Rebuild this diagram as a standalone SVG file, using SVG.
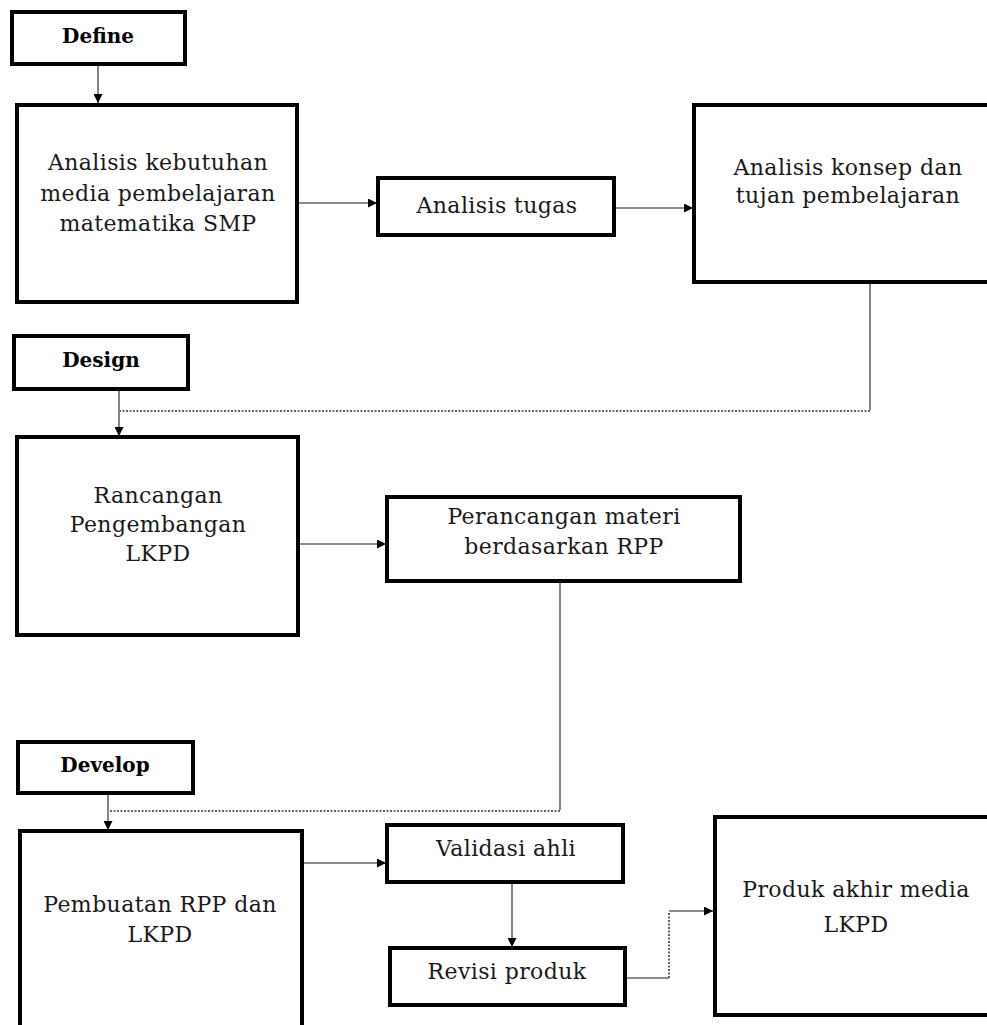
<svg xmlns="http://www.w3.org/2000/svg" width="987" height="1025" viewBox="0 0 987 1025">
<style>
.box{fill:#fff;stroke:#000;stroke-width:4}
.t{font-family:"DejaVu Serif","Liberation Serif",serif;font-size:22px;fill:#1a1a1a;text-anchor:middle;letter-spacing:0.4px}
.h{font-family:"DejaVu Serif","Liberation Serif",serif;font-size:20px;font-weight:bold;fill:#000;text-anchor:middle}
.c{fill:none;stroke:#666;stroke-width:1.6}
.d{fill:none;stroke:#666;stroke-width:2;stroke-dasharray:2 1.5}
</style>
<defs>
<marker id="arr" viewBox="0 0 10 10" refX="10" refY="5" markerWidth="9" markerHeight="9" markerUnits="userSpaceOnUse" orient="auto">
<path d="M0,0 L10,5 L0,10 z" fill="#000"/>
</marker>
</defs>
<rect width="987" height="1025" fill="#fff"/>
<g id="connectors">
<line class="c" x1="98" y1="64" x2="98" y2="103" marker-end="url(#arr)"/>
<line class="c" x1="297" y1="203" x2="377" y2="203" marker-end="url(#arr)"/>
<line class="c" x1="614" y1="208" x2="693" y2="208" marker-end="url(#arr)"/>
<line class="c" x1="870" y1="282" x2="870" y2="410"/>
<line class="d" x1="870" y1="411" x2="120" y2="411"/>
<line class="c" x1="119" y1="389" x2="119" y2="436" marker-end="url(#arr)"/>
<line class="c" x1="298" y1="544" x2="386" y2="544" marker-end="url(#arr)"/>
<line class="c" x1="560" y1="581" x2="560" y2="810"/>
<line class="d" x1="560" y1="811" x2="109" y2="811"/>
<line class="c" x1="108" y1="793" x2="108" y2="830" marker-end="url(#arr)"/>
<line class="c" x1="302" y1="863" x2="386" y2="863" marker-end="url(#arr)"/>
<line class="c" x1="512" y1="882" x2="512" y2="947" marker-end="url(#arr)"/>
<line class="c" x1="625" y1="978" x2="669" y2="978"/>
<line class="d" x1="669" y1="978" x2="669" y2="912"/>
<line class="c" x1="669" y1="911" x2="713" y2="911" marker-end="url(#arr)"/>
</g>
<g id="define">
<rect class="box" x="12" y="12" width="173" height="52"/>
<text class="h" x="98" y="43">Define</text>
</g>
<g id="analisis-kebutuhan">
<rect class="box" x="17" y="105" width="280" height="197"/>
<text class="t" x="158" y="170">Analisis kebutuhan</text>
<text class="t" x="158" y="201">media pembelajaran</text>
<text class="t" x="158" y="231">matematika SMP</text>
</g>
<g id="analisis-tugas">
<rect class="box" x="378" y="178" width="236" height="57"/>
<text class="t" x="497" y="213">Analisis tugas</text>
</g>
<g id="analisis-konsep">
<rect class="box" x="694" y="105" width="310" height="177"/>
<text class="t" x="848" y="175">Analisis konsep dan</text>
<text class="t" x="848" y="203">tujan pembelajaran</text>
</g>
<g id="design">
<rect class="box" x="14" y="336" width="174" height="53"/>
<text class="h" x="101" y="367">Design</text>
</g>
<g id="rancangan">
<rect class="box" x="17" y="437" width="281" height="198"/>
<text class="t" x="158" y="503">Rancangan</text>
<text class="t" x="158" y="532">Pengembangan</text>
<text class="t" x="158" y="561">LKPD</text>
</g>
<g id="perancangan">
<rect class="box" x="387" y="497" width="353" height="84"/>
<text class="t" x="564" y="524">Perancangan materi</text>
<text class="t" x="564" y="554">berdasarkan RPP</text>
</g>
<g id="develop">
<rect class="box" x="18" y="742" width="175" height="51"/>
<text class="h" x="105" y="772">Develop</text>
</g>
<g id="pembuatan">
<rect class="box" x="20" y="831" width="282" height="220"/>
<text class="t" x="160" y="912">Pembuatan RPP dan</text>
<text class="t" x="160" y="942">LKPD</text>
</g>
<g id="validasi">
<rect class="box" x="387" y="825" width="236" height="57"/>
<text class="t" x="506" y="856">Validasi ahli</text>
</g>
<g id="revisi">
<rect class="box" x="390" y="948" width="235" height="57"/>
<text class="t" x="507" y="979">Revisi produk</text>
</g>
<g id="produk">
<rect class="box" x="715" y="817" width="290" height="198"/>
<text class="t" x="856" y="897">Produk akhir media</text>
<text class="t" x="856" y="932">LKPD</text>
</g>
</svg>
